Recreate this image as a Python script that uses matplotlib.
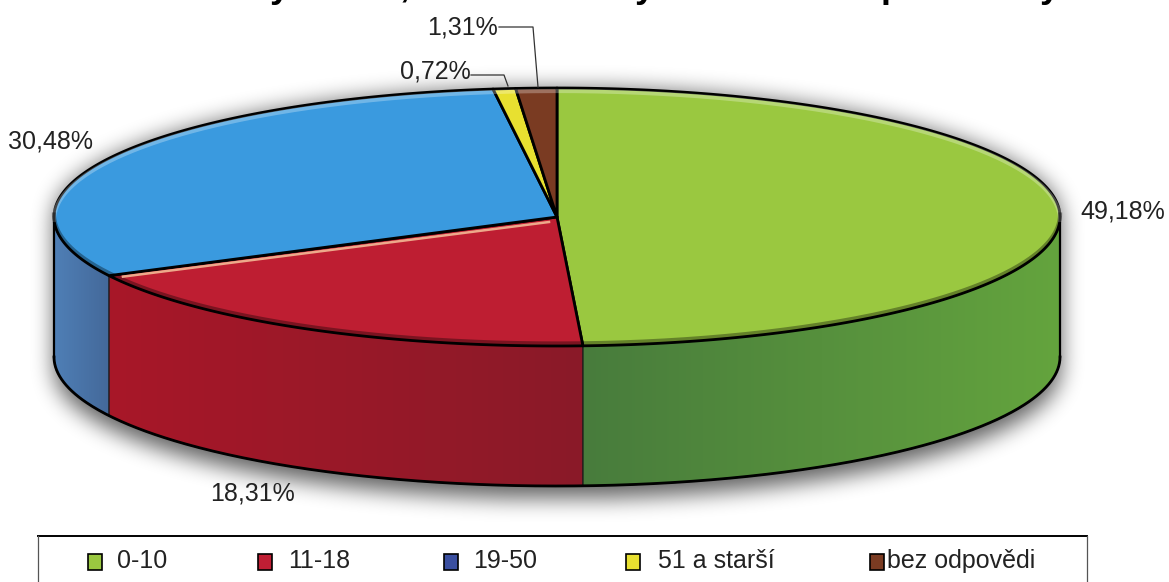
import numpy as np
import matplotlib
matplotlib.use("Agg")
import matplotlib.pyplot as plt
from matplotlib.colors import LinearSegmentedColormap
from matplotlib.patches import Polygon, Rectangle

plt.rcParams['font.family'] = ['Liberation Sans', 'DejaVu Sans']

# Values
categories = ["0-10", "11-18", "19-50", "51 a starší", "bez odpovědi"]
shares = [49.18, 18.31, 30.48, 0.72, 1.31]
pct_labels = ["49,18%", "18,31%", "30,48%", "0,72%", "1,31%"]
top_colors = ["#9AC840", "#BE1E32", "#3A9ADF", "#E8E030", "#7A3B22"]
side_left = ["#487C3C", "#A81729", "#4F7FB6", "#C8C020", "#5F2E1A"]
side_right = ["#64A43E", "#8A1A28", "#44699A", "#C8C020", "#5F2E1A"]
legend_colors = ["#9AC840", "#C01E34", "#3A4FA0", "#E8E030", "#7A3B22"]

# Only the descenders of the cropped title are left in the picture
title_bits = ["y", ",", "y", "p", "y"]
title_x = [280, 405, 645, 892, 1050]

# Pie geometry in pixels
cx, cy = 557, 217
rx, ry = 503, 129
depth = 140

W, H = 1169, 582
fig = plt.figure(figsize=(W / 100, H / 100), dpi=100)
ax = fig.add_axes([0, 0, 1, 1])
ax.set_xlim(0, W)
ax.set_ylim(H, 0)
ax.axis("off")


def rim(t):
    # t is the angle clockwise from the top, in radians
    return cx + rx * np.sin(t), cy - ry * np.cos(t)


def blur(a, n):
    # repeated box blur is enough for a soft shadow
    k = np.ones(n) / n
    for _ in range(3):
        a = np.apply_along_axis(lambda r: np.convolve(r, k, mode="same"), 0, a)
        a = np.apply_along_axis(lambda r: np.convolve(r, k, mode="same"), 1, a)
    return a


# Soft shadow below the solid
yy, xx = np.mgrid[0:H, 0:W]
top_mask = ((xx - cx) / rx) ** 2 + ((yy - cy) / ry) ** 2 <= 1
bot_mask = ((xx - cx) / rx) ** 2 + ((yy - cy - depth - 12) / ry) ** 2 <= 1
mid_mask = (np.abs(xx - cx) <= rx) & (yy >= cy) & (yy <= cy + depth + 12)
shadow = blur((top_mask | bot_mask | mid_mask).astype(float), 21)
rgba = np.zeros((H, W, 4))
rgba[..., 3] = shadow * 0.62
ax.imshow(rgba, extent=(0, W, H, 0), zorder=1, interpolation="bilinear", aspect="auto")

# Wedge limits, clockwise from the top
edges = np.cumsum([0] + shares) / sum(shares) * 2 * np.pi

# Side walls: the visible front half only
for i in range(len(shares)):
    t0 = max(edges[i], np.pi / 2)
    t1 = min(edges[i + 1], 3 * np.pi / 2)
    if t1 <= t0:
        continue
    t = np.linspace(t0, t1, 120)
    x, y = rim(t)
    pts = np.vstack([np.column_stack([x, y]), np.column_stack([x[::-1], y[::-1] + depth])])
    wall = Polygon(pts, closed=True, facecolor="none", edgecolor="none", zorder=2)
    ax.add_patch(wall)
    cmap = LinearSegmentedColormap.from_list("wall", [side_left[i], side_right[i]])
    grad = ax.imshow(np.linspace(0, 1, 256)[None, :], cmap=cmap, aspect="auto", zorder=2,
                     extent=(x.min(), x.max(), H, 0))
    grad.set_clip_path(wall)
    ax.plot(pts[:, 0], pts[:, 1], color="#1a1a1a", lw=1.0, zorder=3)

ax.set_xlim(0, W)
ax.set_ylim(H, 0)

# Lower outline of the solid
t = np.linspace(np.pi / 2, 3 * np.pi / 2, 400)
x, y = rim(t)
ax.plot(x, y + depth, color="black", lw=2.0, zorder=4)
ax.plot([x[0], x[0]], [y[0], y[0] + depth], color="black", lw=1.6, zorder=4)
ax.plot([x[-1], x[-1]], [y[-1], y[-1] + depth], color="black", lw=1.6, zorder=4)

# Top face
for i in range(len(shares)):
    t = np.linspace(edges[i], edges[i + 1], 200)
    x, y = rim(t)
    pts = np.vstack([[cx, cy], np.column_stack([x, y])])
    ax.add_patch(Polygon(pts, closed=True, facecolor=top_colors[i], edgecolor="black",
                         lw=2.0, joinstyle="round", zorder=5))

# Pale highlight along the back rim, dark one along the front rim
t = np.linspace(-np.pi / 2, np.pi / 2, 300)
x, y = rim(t)
ax.plot(x, y + 3, color="white", alpha=0.28, lw=3, zorder=6)
t = np.linspace(np.pi / 2, 3 * np.pi / 2, 300)
x, y = rim(t)
ax.plot(x, y - 2.5, color="black", alpha=0.35, lw=3, zorder=6)

# Peach highlight on the red slice along the blue border
x1, y1 = rim(edges[2])
ax.plot([x1 + 14, cx - 8], [y1 + 1, cy + 5], color="#EDA98A", lw=1.8, zorder=7)

# Percent labels
label_x = [1080, 210, 8, 400, 427]
label_y = [211, 493, 141, 72, 27]
for lab, lx, ly in zip(pct_labels, label_x, label_y):
    ax.text(lx, ly, lab, fontsize=18, color="#222222", ha="left", va="center", zorder=8)

# Leader lines of the two small slices
ax.plot([471, 504, 508], [75, 75, 86], color="#333333", lw=0.9, zorder=8)
ax.plot([499, 533, 538], [27, 27, 87], color="#333333", lw=0.9, zorder=8)

# What is left of the title
for bit, tx in zip(title_bits, title_x):
    ax.text(tx, -3, bit, fontsize=26, fontweight="bold", color="black", ha="center",
            va="baseline", zorder=8)

# Legend box, its lower edge is cut off by the picture
ax.plot([38, 1087], [536, 536], color="black", lw=1.4, zorder=8)
ax.plot([38, 38], [536, 582], color="#555555", lw=0.9, zorder=8)
ax.plot([1087, 1087], [536, 582], color="#555555", lw=0.9, zorder=8)
marker_x = [95, 265, 451, 633, 877]
text_x = [117, 288, 473, 658, 887]
for name, col, mx, tx in zip(categories, legend_colors, marker_x, text_x):
    ax.add_patch(Rectangle((mx - 7, 554), 14, 16, facecolor=col, edgecolor="black", lw=1.2, zorder=8))
    ax.text(tx, 561, name, fontsize=18, color="#222222", ha="left", va="center", zorder=8)

fig.savefig("out.png", dpi=100)
